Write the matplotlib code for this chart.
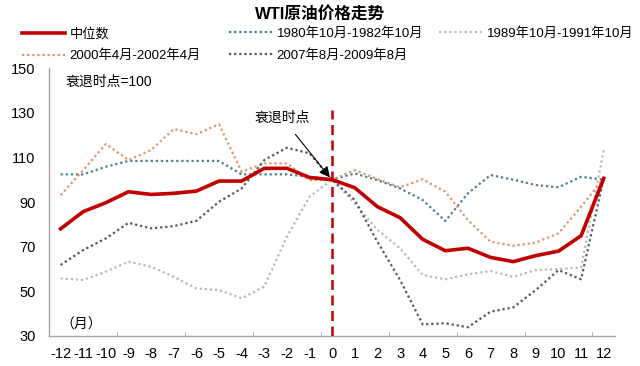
import numpy as np
import matplotlib
matplotlib.use('Agg')
import matplotlib.pyplot as plt
from matplotlib.ticker import FixedLocator

plt.rcParams['font.family'] = ['Liberation Sans', 'Noto Sans CJK SC', 'DejaVu Sans']

# 月份（衰退时点 = 0）
months = list(range(-12, 13))

# 各序列数值（衰退时点=100）
median = [78, 85.7, 89.7, 94.6, 93.4, 93.9, 94.9, 99.4, 99.4, 105.1, 105.1, 101.0, 100,
          96.4, 87.9, 83.0, 73.3, 68.2, 69.3, 65.2, 63.3, 66.0, 68.0, 74.9, 100.6]
s1980 = [102.4, 102.4, 105.8, 108.4, 108.4, 108.4, 108.4, 108.4, 102.4, 102.4, 102.4, 101.3, 100,
         102.8, 99.8, 96.1, 90.9, 81.5, 93.9, 102.1, 100.0, 97.6, 96.6, 101.3, 100.0]
s1989 = [55.8, 55.1, 58.8, 63.3, 61.0, 56.5, 51.3, 50.6, 46.9, 52.1, 74.5, 92.4, 100,
         89.4, 77.5, 69.3, 57.3, 55.4, 57.6, 59.1, 56.5, 59.5, 60.0, 60.7, 113.3]
s2000 = [93.1, 104.3, 116.0, 108.8, 113.3, 122.7, 120.4, 124.8, 103.6, 107.3, 107.3, 99.8, 100,
         104.3, 100.3, 96.6, 100.2, 94.6, 81.9, 72.2, 70.4, 71.8, 76.0, 87.9, 100.6]
s2007 = [61.8, 68.5, 73.7, 80.7, 78.2, 79.2, 81.6, 90.1, 96.1, 108.8, 114.3, 111.8, 100,
         90.9, 72.2, 55.1, 35.2, 35.7, 33.9, 40.9, 42.8, 50.6, 59.5, 55.4, 100.6]

labels = ['中位数', '1980年10月-1982年10月', '1989年10月-1991年10月',
          '2000年4月-2002年4月', '2007年8月-2009年8月']
colors = ['#C00000', '#4A7F90', '#C4B4B4', '#E0946C', '#4E5866']

fig = plt.figure(figsize=(6.4, 3.66), dpi=100)
ax = fig.add_axes([0.077, 0.082, 0.884, 0.732])

dot = (0, (1, 1.3))
h_med, = ax.plot(months, median, color=colors[0], lw=2.6, zorder=5)
h80, = ax.plot(months, s1980, color=colors[1], lw=1.6, ls=dot)
h89, = ax.plot(months, s1989, color=colors[2], lw=1.6, ls=dot)
h00, = ax.plot(months, s2000, color=colors[3], lw=1.6, ls=dot)
h07, = ax.plot(months, s2007, color=colors[4], lw=1.6, ls=dot)

# 衰退时点竖线
ax.plot([0, 0], [30, 131], color='#C00000', lw=1.8, ls=(0, (4, 2.2)), zorder=6)

ax.annotate('衰退时点', xy=(-0.1, 101.0), xytext=(-2.2, 127.6),
            ha='center', va='center', fontsize=10,
            arrowprops=dict(arrowstyle='-|>', color='black', lw=0.8,
                            mutation_scale=16, shrinkA=6, shrinkB=0))
ax.text(-11.8, 143.7, '衰退时点=100', fontsize=10, va='center', ha='left')
ax.text(-12.0, 35, '（月）', fontsize=10, va='center', ha='left')

ax.set_xlim(-12.5, 12.5)
ax.set_ylim(30, 150)
ax.set_yticks(range(30, 151, 20))
ax.set_xticks(months)
ax.set_xticklabels([str(m) for m in months])
ax.xaxis.set_minor_locator(FixedLocator(np.arange(-12.5, 12.6, 3)))
ax.tick_params(axis='x', which='major', length=0, labelsize=10.5, pad=8)
ax.tick_params(axis='x', which='minor', length=3, direction='in', color='#A0A0A0')
ax.tick_params(axis='y', length=0, labelsize=10.5, pad=10)

for s in ['top', 'right']:
    ax.spines[s].set_visible(False)
for s in ['left', 'bottom']:
    ax.spines[s].set_color('#A6A6A6')
    ax.spines[s].set_linewidth(1.0)

fig.text(0.5, 0.962, 'WTI原油价格走势', ha='center', va='center',
         fontsize=12, fontweight='bold')

# 图例：左列 中位数/2000，右侧两列 1980/2007 与 1989
leg_kw = dict(loc='upper left', frameon=False, fontsize=9.5, handlelength=3.3,
              handletextpad=0.3, labelspacing=0.7, borderaxespad=0, borderpad=0)
fig.legend([h_med, h00], [labels[0], labels[3]], ncol=1,
           bbox_to_anchor=(0.034, 0.925), **leg_kw)
fig.legend([h80, h07, h89], [labels[1], labels[4], labels[2]], ncol=2,
           bbox_to_anchor=(0.358, 0.925), columnspacing=1.2, **leg_kw)

fig.savefig('out.png', dpi=100)
